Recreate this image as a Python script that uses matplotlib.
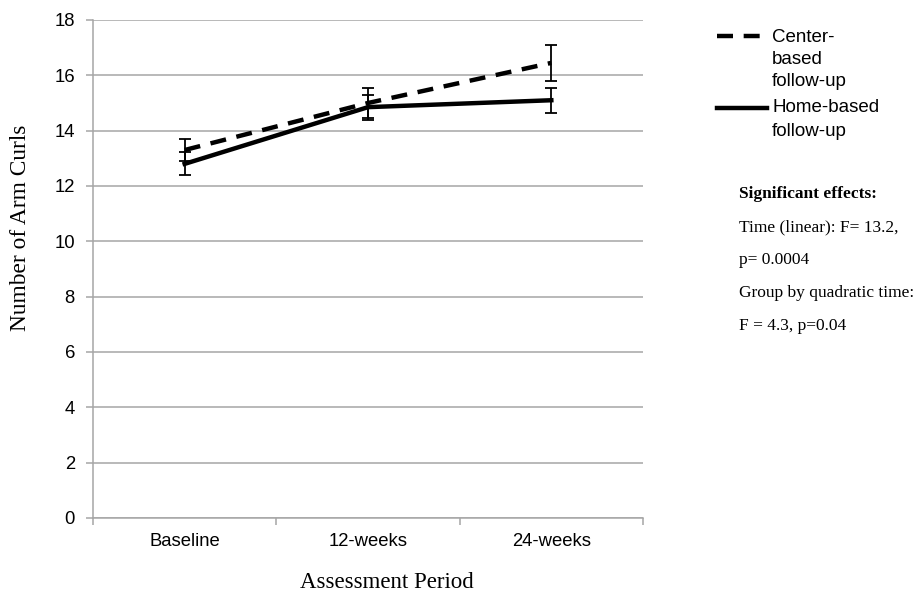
import matplotlib
matplotlib.use("Agg")
import matplotlib.pyplot as plt
from matplotlib.lines import Line2D
import numpy as np

categories = ["Baseline", "12-weeks", "24-weeks"]
center_vals = [13.3, 15.0, 16.45]
center_err = [0.4, 0.55, 0.65]
home_vals = [12.8, 14.85, 15.1]
home_err = [0.42, 0.45, 0.45]
yticks = [0, 2, 4, 6, 8, 10, 12, 14, 16, 18]

fig = plt.figure(figsize=(9.19, 5.93), dpi=100)
ax = fig.add_axes([93/919, 1-518/593, (643-93)/919, (518-20)/593])

x = np.arange(len(categories))
grid_c = "#a6a6a6"
ax.set_xlim(-0.5, 2.5)
ax.set_ylim(0, 18)
ax.set_yticks(yticks)
ax.yaxis.grid(True, color=grid_c, linewidth=1.1)
ax.set_axisbelow(True)

ax.errorbar(x, center_vals, yerr=center_err, color="black", lw=3.2,
            dashes=(3.6, 2.4), capsize=4.5, elinewidth=1.3, capthick=1.3, zorder=3)
ax.errorbar(x, home_vals, yerr=home_err, color="black", lw=3.2,
            capsize=4.5, elinewidth=1.3, capthick=1.3, zorder=3)

for s in ["top", "right"]:
    ax.spines[s].set_visible(False)
for s in ["left", "bottom"]:
    ax.spines[s].set_color(grid_c)
    ax.spines[s].set_linewidth(1.1)

ax.set_xticks(x)
ax.set_xticklabels(categories, fontfamily="Liberation Sans", fontsize=13.3)
ax.set_xticks([-0.5, 0.5, 1.5, 2.5], minor=True)
ax.tick_params(axis="x", which="major", length=0, pad=11)
ax.tick_params(axis="x", which="minor", length=5, color=grid_c, width=1.1)
ax.tick_params(axis="y", length=5, color=grid_c, width=1.1, pad=8)
for lab in ax.get_yticklabels():
    lab.set_fontfamily("Liberation Sans")
    lab.set_fontsize(13.3)

def fx(px):
    return px / 919
def fy(py):
    return 1 - py / 593

# Axis titles (placed as in the reference)
fig.text(fx(387), fy(582), "Assessment Period", fontfamily="Liberation Serif",
         fontsize=16.5, ha="center", va="center")
fig.text(fx(21), fy(228), "Number of Arm Curls", fontfamily="Liberation Serif",
         fontsize=16.8, ha="center", va="center", rotation=90)

# Legend drawn manually
fig.add_artist(Line2D([fx(717), fx(763)], [fy(36), fy(36)], color="black", lw=3.2,
                      dashes=(3.6, 2.4), transform=fig.transFigure))
fig.add_artist(Line2D([fx(717), fx(767)], [fy(108), fy(108)], color="black", lw=3.2,
                      transform=fig.transFigure))
leg_lines = [("Center-", 37), ("based", 59.5), ("follow-up", 82),
             ("Home-based", 108), ("follow-up", 131)]
for t, yy in leg_lines:
    fig.text(fx(772), fy(yy), t, fontfamily="Liberation Sans", fontsize=13.5,
             va="center", ha="left")

lines = [("Significant effects:", "bold"),
         ("Time (linear): F= 13.2,", "normal"),
         ("p= 0.0004", "normal"),
         ("Group by quadratic time:", "normal"),
         ("F = 4.3, p=0.04", "normal")]
ys = [194, 227, 260, 293, 326]
for (t, w), yy in zip(lines, ys):
    fig.text(fx(739), fy(yy), t, fontfamily="Liberation Serif", fontsize=12.5,
             fontweight=w, va="center", ha="left")

fig.savefig("out.png", dpi=100)
